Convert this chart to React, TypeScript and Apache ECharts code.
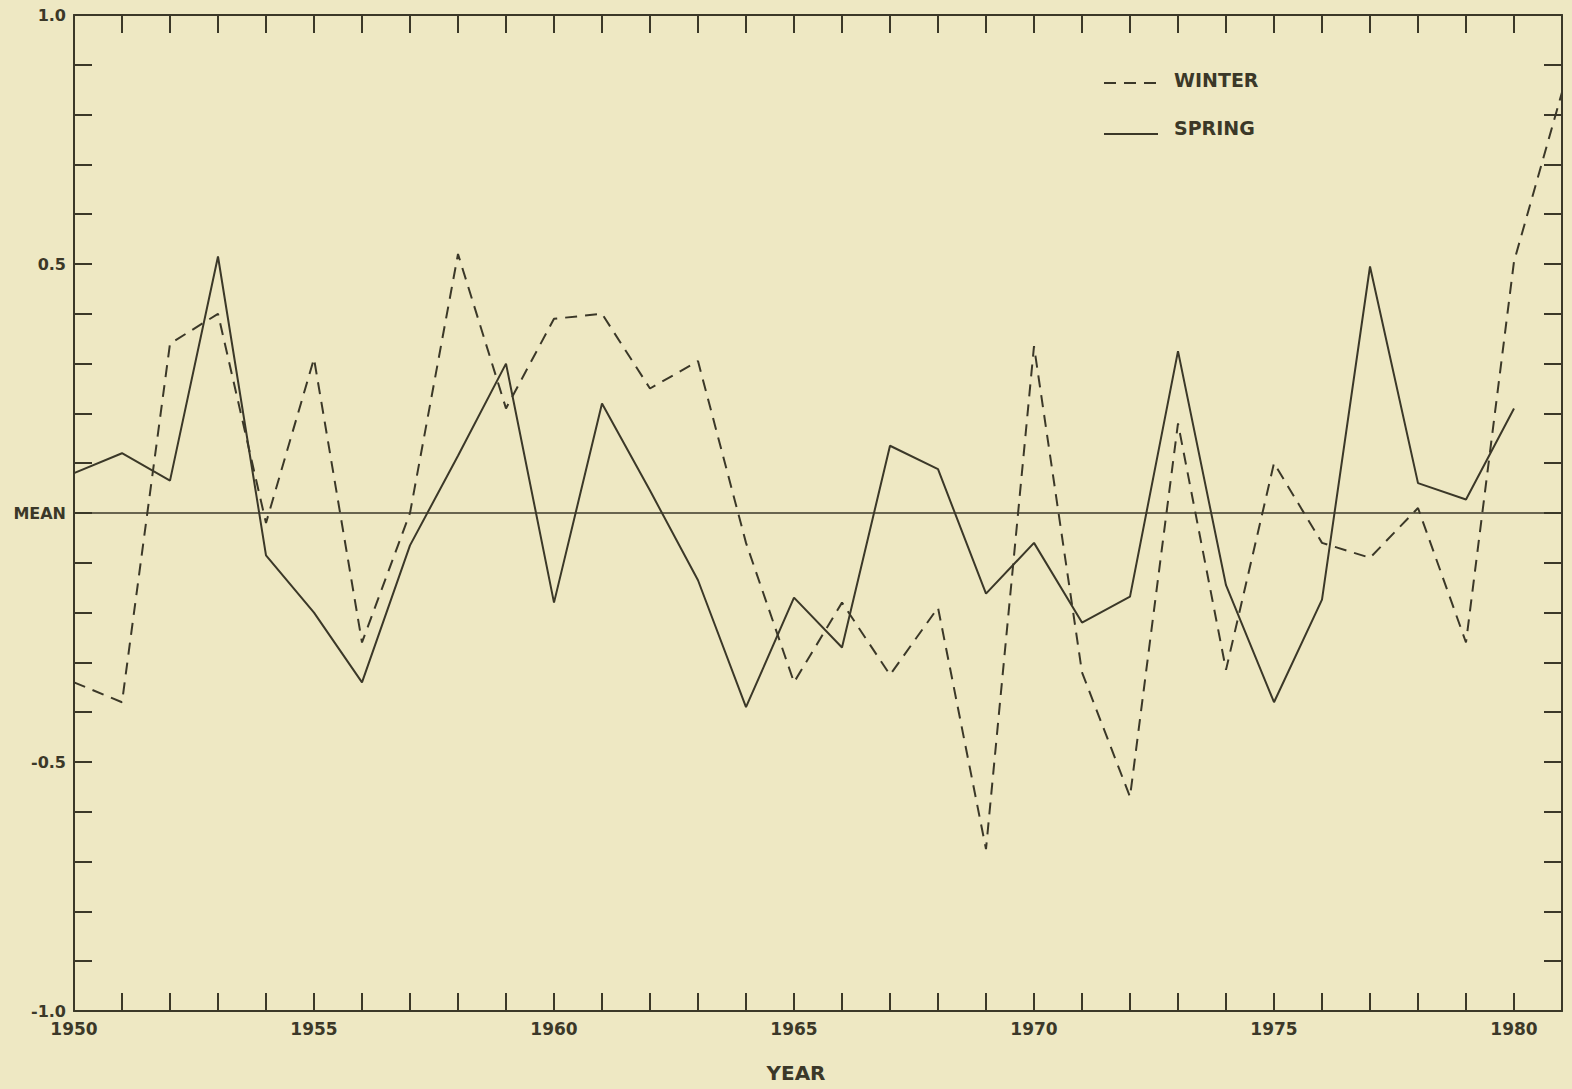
import React, { useEffect, useRef } from "react";
import * as echarts from "echarts";

const years = [
  1950, 1951, 1952, 1953, 1954, 1955, 1956, 1957, 1958, 1959,
  1960, 1961, 1962, 1963, 1964, 1965, 1966, 1967, 1968, 1969,
  1970, 1971, 1972, 1973, 1974, 1975, 1976, 1977, 1978, 1979,
  1980, 1981,
];

const winter = [
  -0.34, -0.38, 0.34, 0.4, -0.02, 0.31, -0.26, 0.0, 0.52, 0.21,
  0.39, 0.4, 0.25, 0.305, -0.06, -0.34, -0.18, -0.325, -0.19, -0.675,
  0.335, -0.32, -0.57, 0.18, -0.315, 0.1, -0.06, -0.09, 0.01, -0.26,
  0.505, 0.845,
];

const spring = [
  0.08, 0.12, 0.065, 0.515, -0.085, -0.2, -0.34, -0.065, 0.115, 0.3,
  -0.18, 0.22, 0.045, -0.135, -0.39, -0.17, -0.27, 0.135, 0.088, -0.162,
  -0.06, -0.22, -0.168, 0.325, -0.145, -0.38, -0.174, 0.495, 0.06, 0.027,
  0.21,
];

const seriesNames = ["WINTER", "SPRING"];
const xLabelYears = [1950, 1955, 1960, 1965, 1970, 1975, 1980];
const yLabels: Record<string, string> = {
  "1": "1.0",
  "0.5": "0.5",
  "0": "MEAN",
  "-0.5": "-0.5",
  "-1": "-1.0",
};

const INK = "#3b3828";
const BG = "#eee8c3";
const DASH = [12, 8];

export default function App() {
  const ref = useRef<HTMLDivElement>(null);

  useEffect(() => {
    document.body.style.margin = "0";
    document.body.style.background = BG;
    const chart = echarts.init(ref.current!, undefined, { renderer: "svg" });

    const winterData = years.map((y, i) => [y, winter[i]]);
    const springData = years.slice(0, spring.length).map((y, i) => [y, spring[i]]);

    const axisLine = { show: true, onZero: false, lineStyle: { color: INK, width: 2 } };
    const axisTick = { show: true, inside: true, length: 18, lineStyle: { color: INK, width: 2 } };
    const labelFont = {
      color: INK,
      fontFamily: "DejaVu Sans",
      fontWeight: "bold" as const,
      fontSize: 16,
    };
    const legendText = {
      fill: INK,
      fontFamily: "DejaVu Sans",
      fontWeight: "bold",
      fontSize: 19,
    };

    chart.setOption({
      animation: false,
      backgroundColor: BG,
      grid: { left: 74, top: 15, right: 10, bottom: 78, containLabel: false },
      graphic: [
        {
          type: "line",
          shape: { x1: 1104, y1: 83, x2: 1158, y2: 83 },
          style: { stroke: INK, lineWidth: 2, lineDash: DASH },
        },
        {
          type: "text",
          x: 1174,
          y: 80,
          style: { ...legendText, text: seriesNames[0], verticalAlign: "middle" },
        },
        {
          type: "line",
          shape: { x1: 1104, y1: 134, x2: 1158, y2: 134 },
          style: { stroke: INK, lineWidth: 2 },
        },
        {
          type: "text",
          x: 1174,
          y: 128,
          style: { ...legendText, text: seriesNames[1], verticalAlign: "middle" },
        },
      ],
      xAxis: [
        {
          type: "value",
          min: 1950,
          max: 1981,
          interval: 1,
          position: "bottom",
          axisLine,
          axisTick,
          splitLine: { show: false },
          axisLabel: {
            ...labelFont,
            fontSize: 17,
            margin: 9,
            formatter: (v: number) => (xLabelYears.includes(v) ? String(v) : ""),
          },
          name: "YEAR",
          nameLocation: "middle",
          nameGap: 52,
          nameTextStyle: { ...labelFont, fontSize: 20, padding: [0, 44, 0, 0] },
        },
        {
          type: "value",
          min: 1950,
          max: 1981,
          interval: 1,
          position: "top",
          axisLine,
          axisTick,
          splitLine: { show: false },
          axisLabel: { show: false },
        },
      ],
      yAxis: [
        {
          type: "value",
          min: -1,
          max: 1,
          interval: 0.1,
          position: "left",
          axisLine,
          axisTick,
          splitLine: { show: false },
          axisLabel: {
            ...labelFont,
            margin: 8,
            formatter: (v: number) => {
              const k = String(Math.round(v * 10) / 10);
              return yLabels[k] ?? "";
            },
          },
        },
        {
          type: "value",
          min: -1,
          max: 1,
          interval: 0.1,
          position: "right",
          axisLine,
          axisTick,
          splitLine: { show: false },
          axisLabel: { show: false },
        },
      ],
      series: [
        {
          name: seriesNames[0],
          type: "line",
          data: winterData,
          symbol: "none",
          lineStyle: { color: INK, width: 2, type: DASH },
          itemStyle: { color: INK },
          markLine: {
            silent: true,
            symbol: "none",
            label: { show: false },
            lineStyle: { color: INK, width: 1.5, type: "solid" },
            data: [{ yAxis: 0 }],
          },
        },
        {
          name: seriesNames[1],
          type: "line",
          data: springData,
          symbol: "none",
          lineStyle: { color: INK, width: 2, type: "solid" },
          itemStyle: { color: INK },
        },
      ],
    });

    return () => chart.dispose();
  }, []);

  return (
    <div
      ref={ref}
      style={{ position: "absolute", left: 0, top: 0, width: 1572, height: 1089 }}
    />
  );
}
